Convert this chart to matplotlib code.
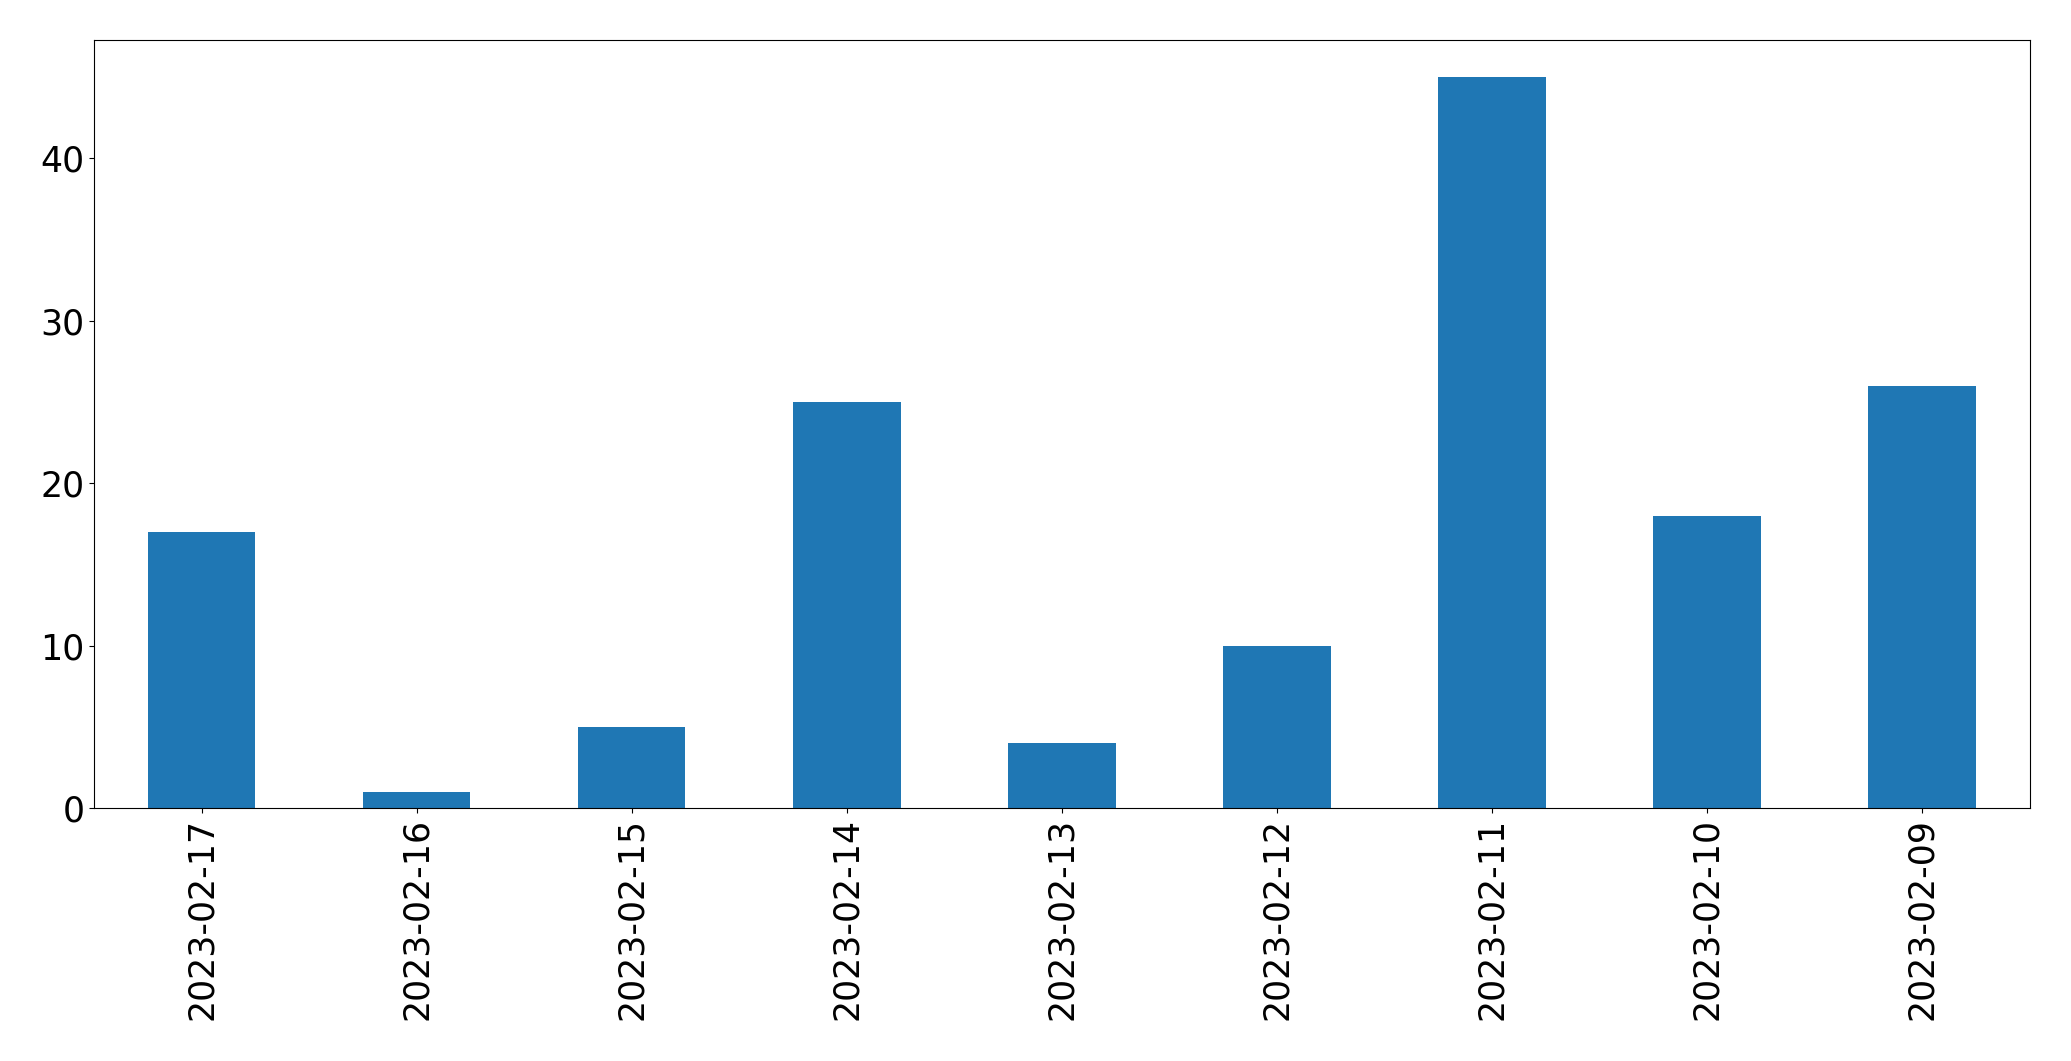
import pandas as pd
import matplotlib
matplotlib.use("Agg")
import matplotlib.pyplot as plt

# daily counts, newest first (as in the reference)
dates = ["2023-02-17", "2023-02-16", "2023-02-15", "2023-02-14", "2023-02-13",
         "2023-02-12", "2023-02-11", "2023-02-10", "2023-02-09"]
counts = [17, 1, 5, 25, 4, 10, 45, 18, 26]

s = pd.Series(counts, index=dates)

fig, ax = plt.subplots(figsize=(20.71, 10.61), dpi=100)
s.plot(kind="bar", ax=ax, color="#1f77b4", fontsize=25)
plt.subplots_adjust(left=0.0454, right=0.980, top=0.962, bottom=0.238)
plt.savefig("out.png")
